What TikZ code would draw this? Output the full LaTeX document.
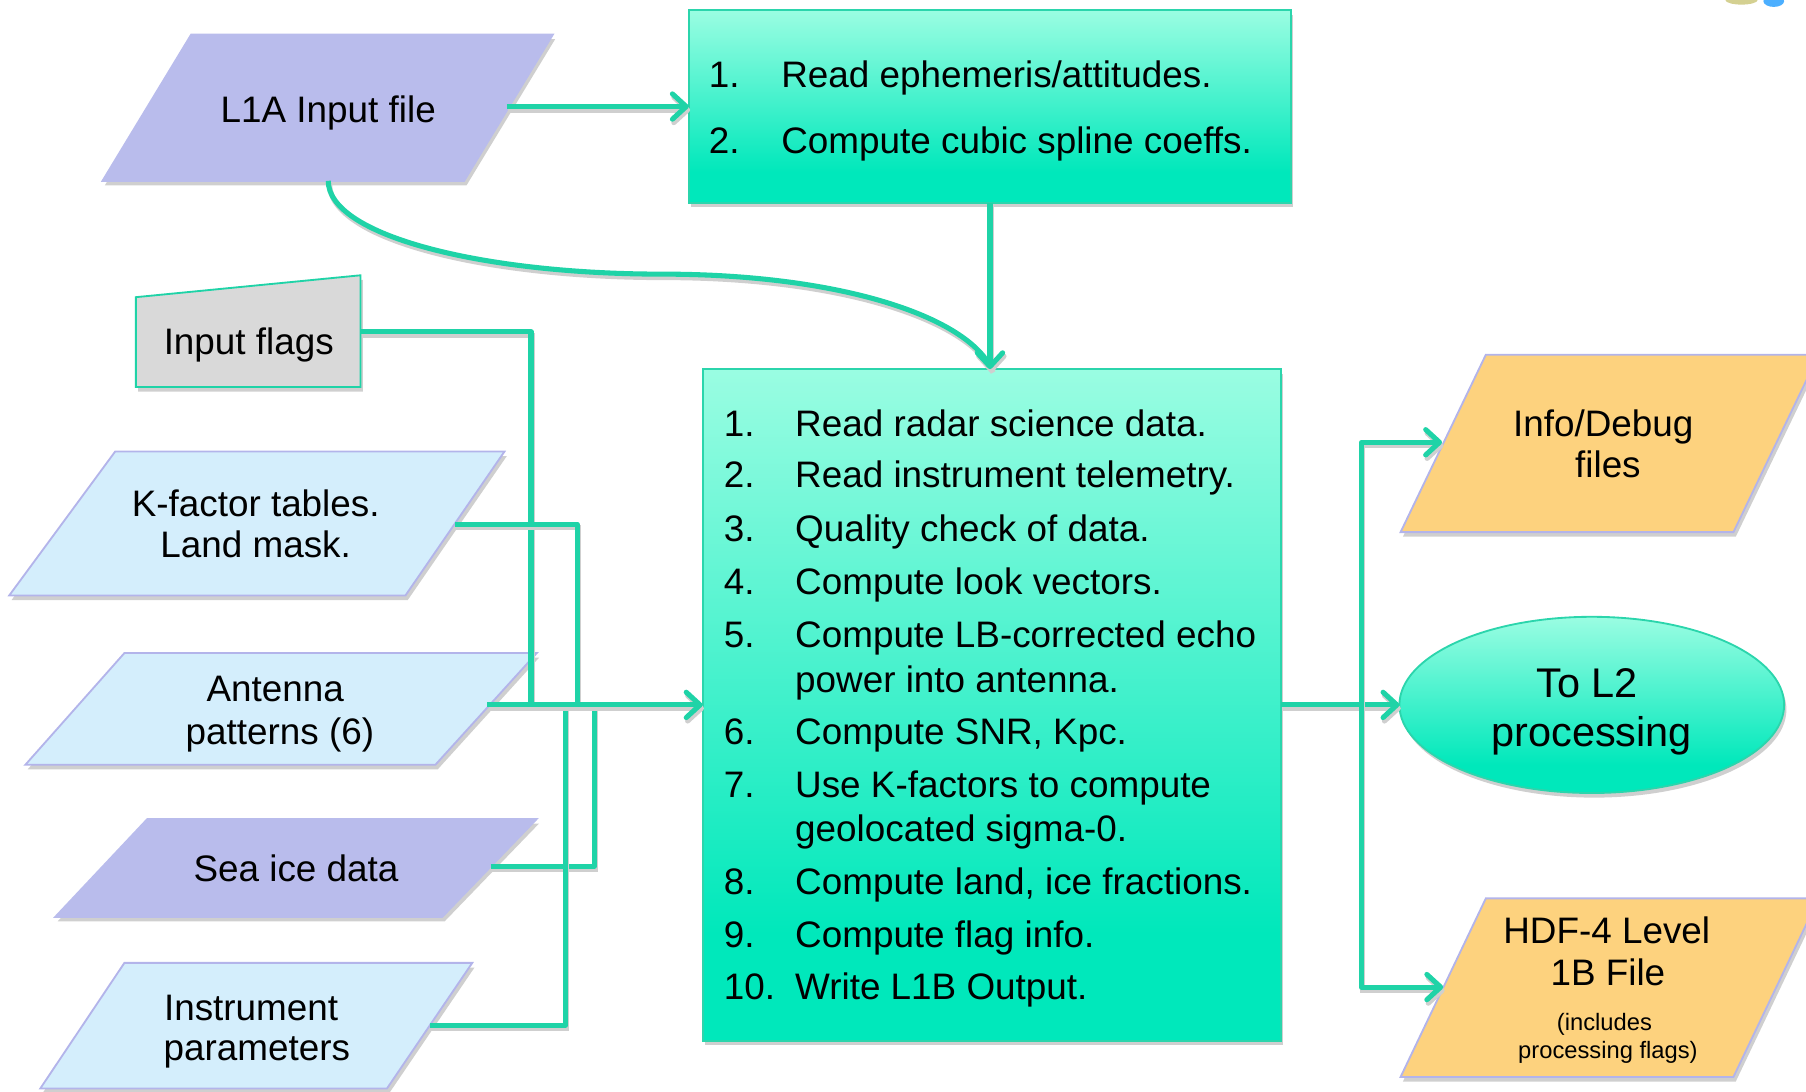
\documentclass[tikz,border=0pt]{standalone}
\usepackage{fontspec}
\setmainfont{Liberation Sans}
\usetikzlibrary{arrows.meta,shapes.geometric}

\definecolor{flow}{HTML}{1FD3A7}
\definecolor{boxedge}{HTML}{2BD5AC}
\definecolor{aqTop}{HTML}{9AFDE2}
\definecolor{aqBot}{HTML}{00E8BB}
\definecolor{lav}{HTML}{B9BCEC}
\definecolor{lavedge}{HTML}{B3B4EA}
\definecolor{lblue}{HTML}{D4EEFC}
\definecolor{flaggray}{HTML}{D9D9D9}
\definecolor{filegold}{HTML}{FDD27E}
\definecolor{shade}{HTML}{CFCFCF}

% a shape covers 25bp..75bp of the shading: light at its top, full aqua over its lowest part
\pgfdeclareverticalshading{aquafade}{100bp}{color(0bp)=(aqBot); color(25bp)=(aqBot); color(33bp)=(aqBot); color(75bp)=(aqTop); color(100bp)=(aqTop)}

\begin{document}
\begin{tikzpicture}[x=0.5pt,y=-0.5pt,
  dropshadow/.style={preaction={fill=shade, transform canvas={shift={(1pt,-2pt)}}}},
  procbox/.style={rectangle, draw=boxedge, line width=0.8pt, shading=aquafade,
    inner sep=0pt, outer sep=0pt, dropshadow},
  datashape/.style={draw=lavedge, line width=0.8pt, line join=miter, dropshadow},
  txt/.style={inner sep=0pt, font=\fontsize{16}{19.5}\selectfont},
  bigtxt/.style={inner sep=0pt, font=\fontsize{18}{22}\selectfont},
  smalltxt/.style={inner sep=0pt, font=\fontsize{10.3}{12}\selectfont},
  conn/.style={draw=flow, line width=2.2pt, line join=round,
    preaction={draw=shade, line width=2.2pt, transform canvas={shift={(0.6pt,-1.5pt)}}}},
  arr/.style={-{Straight Barb[length=6pt,width=11pt,line cap=round,line join=round]}}
]
\useasboundingbox (0,0) rectangle (1568,948);
\begin{scope}
\clip (0,0) rectangle (1568,948);

% ---------- processing boxes ----------
\node[procbox, minimum width=261.5pt, minimum height=83.5pt] (ephem) at (859.5,92.5) {};
\node[procbox, minimum width=251pt, minimum height=291.5pt] (proc) at (861,612) {};

% ---------- output ellipse ----------
\node[ellipse, draw=boxedge, line width=0.8pt, shading=aquafade, inner sep=0pt, outer sep=0pt,
  minimum width=167pt, minimum height=76.5pt, dropshadow] (tol2) at (1382,612) {};

% ---------- input data shapes ----------
\path[datashape, fill=lav, draw=lav] (166,30) -- (480,30) -- (403,157) -- (89,157) -- cycle;
\path[datashape, fill=flaggray, draw=flow] (118,258) -- (313,239) -- (313,336) -- (118,336) -- cycle;
\path[datashape, fill=lblue] (100,392) -- (438,392) -- (352,517) -- (8,517) -- cycle;
\path[datashape, fill=lblue] (108,567) -- (466,567) -- (378,664) -- (22,664) -- cycle;
\path[datashape, fill=lav, draw=lav] (128,711) -- (466,711) -- (384,796) -- (48,796) -- cycle;
\path[datashape, fill=lblue] (108,836) -- (410,836) -- (336,945) -- (35,945) -- cycle;

% ---------- output files ----------
\path[datashape, fill=filegold] (1290,308) -- (1579,308) -- (1505,462) -- (1216,462) -- cycle;
\path[datashape, fill=filegold] (1290,780) -- (1579,780) -- (1505,935) -- (1216,935) -- cycle;

% ---------- small corner emblem ----------
\fill[color=yellow!45!gray!70] (1512,0) ellipse [x radius=14, y radius=4];
\fill[color=blue!45!cyan!70] (1540,1) ellipse [x radius=9, y radius=5];

% ---------- labels ----------
\node[txt, anchor=base] (l1a) at (285,106) {L1A Input file};
\node[txt, anchor=base] (flags) at (216,308) {Input flags};
\node[txt, anchor=base] (kfac) at (222,448) {K-factor tables.};
\node[txt, anchor=base] (kfac2) at (222,484) {Land mask.};
\node[txt, anchor=base] (ant) at (239,609) {Antenna};
\node[txt, anchor=base] (ant2) at (243,646) {patterns (6)};
\node[txt, anchor=base] (ice) at (257,765) {Sea ice data};
\node[txt, anchor=base] (inst) at (218,886) {Instrument};
\node[txt, anchor=base] (inst2) at (223,921) {parameters};

\node[txt, anchor=base] (info) at (1392,379) {Info/Debug};
\node[txt, anchor=base] (info2) at (1396,415) {files};
\node[txt, anchor=base] (hdf) at (1395,819) {HDF-4 Level};
\node[txt, anchor=base] (hdf2) at (1396,856) {1B File};
\node[smalltxt, anchor=base] (hdf3) at (1393,895) {(includes};
\node[smalltxt, anchor=base] (hdf4) at (1396,919) {processing flags)};
\node[bigtxt, anchor=base] (l2a) at (1378,606) {To L2};
\node[bigtxt, anchor=base] (l2b) at (1382,648) {processing};

% steps of the ephemeris box
\node[txt, anchor=base west] (e1n) at (615,76) {1.};
\node[txt, anchor=base west] (e1) at (678,76) {Read ephemeris/attitudes.};
\node[txt, anchor=base west] (e2n) at (615,133) {2.};
\node[txt, anchor=base west] (e2) at (678,133) {Compute cubic spline coeffs.};

% steps of the main processing box
\node[txt, anchor=base west] (s1n) at (628,379) {1.};
\node[txt, anchor=base west] (s1) at (690,379) {Read radar science data.};
\node[txt, anchor=base west] (s2n) at (628,423) {2.};
\node[txt, anchor=base west] (s2) at (690,423) {Read instrument telemetry.};
\node[txt, anchor=base west] (s3n) at (628,470) {3.};
\node[txt, anchor=base west] (s3) at (690,470) {Quality check of data.};
\node[txt, anchor=base west] (s4n) at (628,516) {4.};
\node[txt, anchor=base west] (s4) at (690,516) {Compute look vectors.};
\node[txt, anchor=base west] (s5n) at (628,562) {5.};
\node[txt, anchor=base west] (s5) at (690,562) {Compute LB-corrected echo};
\node[txt, anchor=base west] (s5b) at (690,601) {power into antenna.};
\node[txt, anchor=base west] (s6n) at (628,646) {6.};
\node[txt, anchor=base west] (s6) at (690,646) {Compute SNR, Kpc.};
\node[txt, anchor=base west] (s7n) at (628,692) {7.};
\node[txt, anchor=base west] (s7) at (690,692) {Use K-factors to compute};
\node[txt, anchor=base west] (s7b) at (690,731) {geolocated sigma-0.};
\node[txt, anchor=base west] (s8n) at (628,777) {8.};
\node[txt, anchor=base west] (s8) at (690,777) {Compute land, ice fractions.};
\node[txt, anchor=base west] (s9n) at (628,823) {9.};
\node[txt, anchor=base west] (s9) at (690,823) {Compute flag info.};
\node[txt, anchor=base west] (s10n) at (628,868) {10.};
\node[txt, anchor=base west] (s10) at (690,868) {Write L1B Output.};

% ---------- connector end points ----------
\coordinate (l1a-out) at (440,92.5);
\coordinate (l1a-bot) at (285,157);
\coordinate (bend) at (575,238);
\coordinate (flags-out) at (313,288);
\coordinate (kfac-out) at (395,455);
\coordinate (ant-out) at (423,612);
\coordinate (ice-out) at (426,752);
\coordinate (inst-out) at (373,890);
\coordinate (j-flags) at (461,612);
\coordinate (j-kfac) at (501,612);
\coordinate (j-ice) at (516,612);
\coordinate (j-inst) at (491,612);
\coordinate (j-out) at (1182,612);
\coordinate (info-in) at (1252,384);
\coordinate (hdf-in) at (1253,857);

% ---------- connectors ----------
\draw[conn, arr] (l1a-out) -- (ephem.west);
\draw[conn] (l1a-bot) .. controls (285,205) and (420,238) .. (bend)
  .. controls (730,238) and (840,275) .. (proc.north);
\draw[conn, arr] (ephem.south) -- (ephem.south |- proc.north);

\draw[conn] (flags-out) -| (j-flags);
\draw[conn] (kfac-out) -| (j-kfac);
\draw[conn] (ice-out) -| (j-ice);
\draw[conn] (inst-out) -| (j-inst);
\draw[conn, arr] (ant-out) -- (proc.west);

\draw[conn] (proc.east) -- (j-out);
\draw[conn, arr] (j-out) -- (tol2.west);
\draw[conn, arr] (j-out) |- (info-in);
\draw[conn, arr] (j-out) |- (hdf-in);
\end{scope}
\end{tikzpicture}
\end{document}
